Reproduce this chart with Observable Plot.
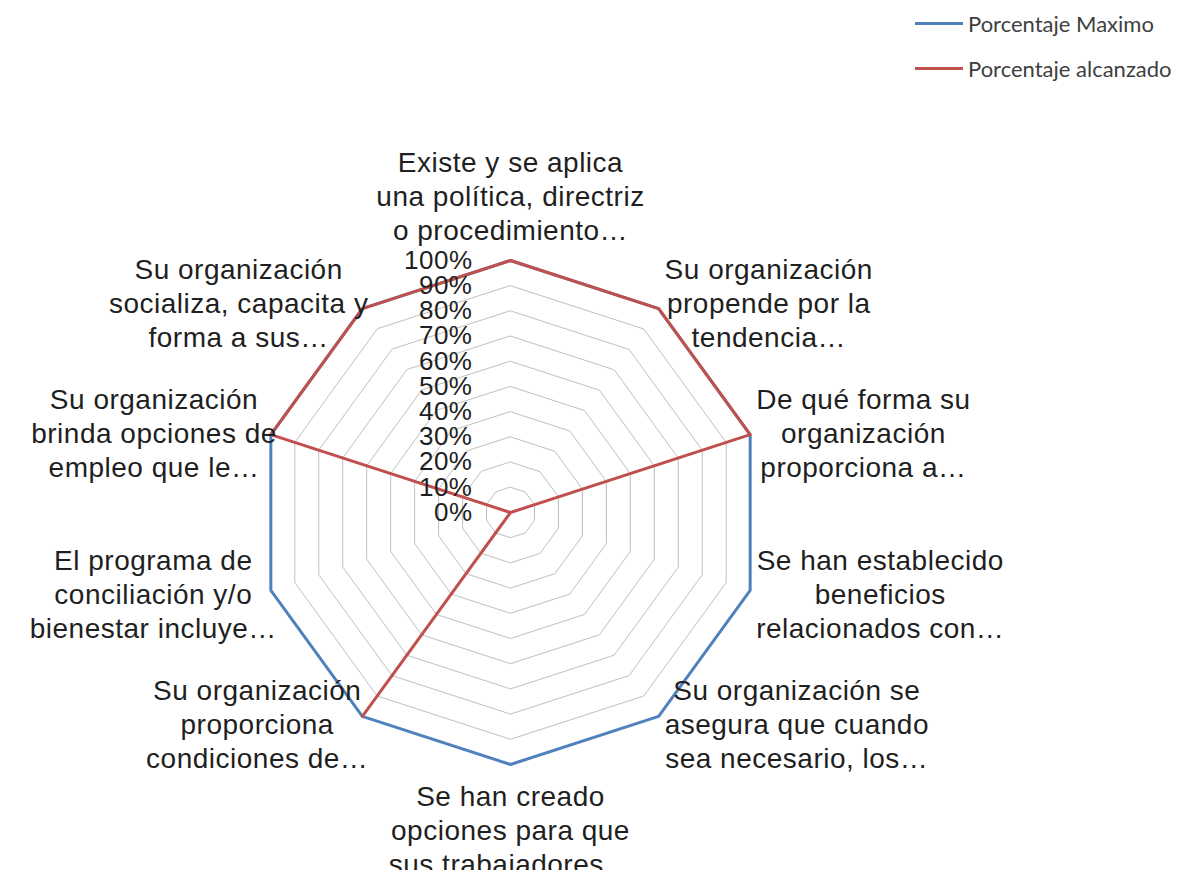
<!DOCTYPE html>
<html><head><meta charset="utf-8">
<script src="https://cdn.jsdelivr.net/npm/d3@7"></script>
<script src="https://cdn.jsdelivr.net/npm/@observablehq/plot@0.6"></script>
<style>
body{margin:0;background:#fff;}
#wrap{position:relative;width:1178px;height:870px;}
#legend{position:absolute;left:915px;top:0;font-family:Lato,'Open Sans',sans-serif;font-size:22px;color:#404040;}
.item{position:absolute;left:0;height:30px;display:flex;align-items:center;white-space:nowrap;}
.sw{width:48px;height:3px;margin-right:5px;}
</style></head>
<body><div id="wrap"><div id="chart"></div><div id="legend"></div></div>
<script>
const categories = [
  "Existe y se aplica\nuna política, directriz\no procedimiento…",
  "Su organización\npropende por la\ntendencia…",
  "De qué forma su\norganización\nproporciona a…",
  "Se han establecido\nbeneficios\nrelacionados con…",
  "Su organización se\nasegura que cuando\nsea necesario, los…",
  "Se han creado\nopciones para que\nsus trabajadores…",
  "Su organización\nproporciona\ncondiciones de…",
  "El programa de\nconciliación y/o\nbienestar incluye…",
  "Su organización\nbrinda opciones de\nempleo que le…",
  "Su organización\nsocializa, capacita y\nforma a sus…"
];
const maxValues = [100, 100, 100, 100, 100, 100, 100, 100, 100, 100];
const achievedValues = [100, 100, 100, 0, 0, 0, 100, 0, 100, 100];
const tickLabels = ["0%", "10%", "20%", "30%", "40%", "50%", "60%", "70%", "80%", "90%", "100%"];
const seriesNames = ["Porcentaje Maximo", "Porcentaje alcanzado"];
const seriesColors = ["#4F81BD", "#C0504D"];

const W = 1178, H = 870, CX = 510, CY = 512, R = 252;
const LABEL_FS = 28, LS = 0.5, LH = 34, GAP_RIGHT = 6, GAP_LEFT = -6;
const n = categories.length;
const ang = i => i * 2 * Math.PI / n;
const pt = (i, v) => ({x: Math.sin(ang(i)) * v / 100, y: Math.cos(ang(i)) * v / 100});

const levels = tickLabels.map(t => parseFloat(t)).filter(v => v > 0);
const grid = levels.flatMap(l => categories.map((c, i) => ({level: l, ...pt(i, l)})));
const maxPts = maxValues.map((v, i) => pt(i, v));
const achPts = achievedValues.map((v, i) => pt(i, v));

const ctx = document.createElement("canvas").getContext("2d");
ctx.font = `${LABEL_FS}px "Liberation Sans"`;
const labels = categories.map((c, i) => {
  const lines = c.split("\n");
  const w = Math.max(...lines.map(l => ctx.measureText(l).width + LS * l.length));
  const h = lines.length * LH;
  const s = Math.sin(ang(i)), co = Math.cos(ang(i));
  let px = s * R, py = co * R;
  if (Math.abs(s) < 0.1) { py += Math.sign(co) * (h / 2 + 14); }
  else { px += Math.sign(s) * ((s > 0 ? GAP_RIGHT : GAP_LEFT) + w / 2); py += co * 8; }
  return {text: c, x: px / R, y: py / R};
});

const chart = Plot.plot({
  width: W, height: H, margin: 0,
  x: {domain: [-CX / R, (W - CX) / R], axis: null},
  y: {domain: [-(H - CY) / R, CY / R], axis: null},
  style: {fontFamily: "'Liberation Sans', Arial, sans-serif", background: "white", letterSpacing: "0.5px", color: "#1f1f1f"},
  marks: [
    Plot.line(grid, {x: "x", y: "y", z: "level", stroke: "#bfbfbf", strokeWidth: 1, curve: "linear-closed"}),
    Plot.line(maxPts, {x: "x", y: "y", stroke: seriesColors[0], strokeWidth: 3, curve: "linear-closed"}),
    Plot.line(achPts, {x: "x", y: "y", stroke: seriesColors[1], strokeWidth: 3, curve: "linear-closed"}),
    Plot.text(labels, {x: "x", y: "y", text: "text", fontSize: LABEL_FS, lineHeight: LH / LABEL_FS, textAnchor: "middle", fill: "#1f1f1f"}),
    Plot.text(tickLabels, {x: 0, y: d => parseFloat(d) / 100, text: d => d, textAnchor: "end", dx: -38, fontSize: 26, fill: "#1f1f1f"})
  ]
});
document.getElementById("chart").appendChild(chart);

const legend = document.getElementById("legend");
seriesNames.forEach((name, i) => {
  const item = document.createElement("div");
  item.className = "item";
  item.style.top = (8 + i * 45) + "px";
  const sw = document.createElement("div");
  sw.className = "sw";
  sw.style.background = seriesColors[i];
  item.appendChild(sw);
  item.appendChild(document.createTextNode(name));
  legend.appendChild(item);
});
</script>
</body></html>
